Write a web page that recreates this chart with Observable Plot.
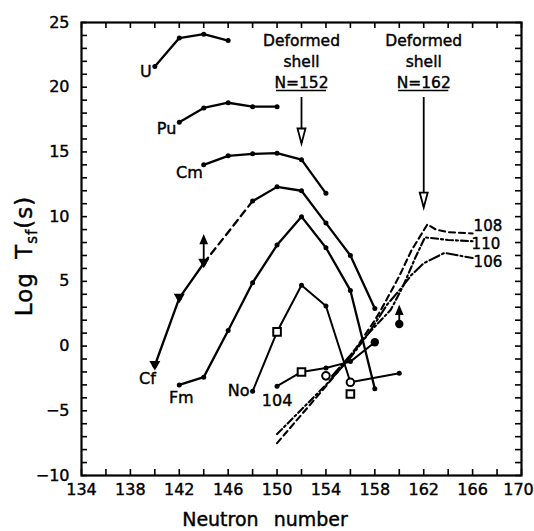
<!DOCTYPE html>
<html><head><meta charset="utf-8">
<script src="https://cdn.jsdelivr.net/npm/d3@7"></script>
<script src="https://cdn.jsdelivr.net/npm/@observablehq/plot@0.6"></script>
<style>body{margin:0;background:#fff}</style>
</head><body><div id="chart"></div>
<script>
// ---- data (neutron number, log Tsf) ----
const xTicks = [134,138,142,146,150,154,158,162,166,170];
const yTicks = [-10,-5,0,5,10,15,20,25];
const U  = [[140,21.6],[142,23.8],[144,24.1],[146,23.6]];
const Pu = [[142,17.3],[144,18.4],[146,18.8],[148,18.5],[150,18.5]];
const Cm = [[144,14.0],[146,14.7],[148,14.85],[150,14.9],[152,14.4],[154,11.8]];
const Cf = [[140,-1.5],[142,3.7],[144,6.4],[148,11.2],[150,12.3],[152,12.0],[154,9.5],[156,7.0],[158,2.9]];
const Fm = [[142,-3.0],[144,-2.4],[146,1.2],[148,4.9],[150,7.8],[152,10.0],[154,7.6],[156,4.3],[158,-3.3]];
const No = [[148,-3.5],[150,1.1],[152,4.7],[154,3.1],[156,-2.8],[160,-2.1]];
const Z104 = [[150,-3.1],[152,-2.0],[154,-1.7],[156,-1.2],[158,0.3]];
const T108 = [[150,-7.5],[152,-5.3],[154,-3.1],[156,-0.8],[157,0.6],[158,2.0],[158.5,2.8],[160,5.4],[161,7.4],[162.3,9.4],[163,9.0],[164,8.8],[166,8.7]];
const T110 = [[150,-6.8],[152,-4.9],[154,-3.0],[156,-0.9],[157.5,1.0],[159.3,2.8],[160.3,4.6],[161.3,6.8],[162.1,8.4],[164,8.2],[166,8.1]];
const T106 = [[154.5,-2.3],[156,-0.7],[157.5,1.0],[159,3.2],[160,4.3],[161,5.5],[162,6.4],[163.7,7.2],[166,6.8]];
const openSquares = [[150,1.1],[152,-2.0],[156,-3.7]];
const openCircles = [[156,-2.8],[154,-2.3]];
const filledCircles = [[158,0.3],[160,1.7]];
const downTriangles = [[140,-1.5],[142,3.7],[144,6.4]];
const lowerLimits = [[144,6.4],[160,1.7]];
const shells = [{n:152, tip:15.65}, {n:162, tip:10.7}];

// ---- layout ----
const W = 534, H = 531, mL = 81, mR = 13, mT = 22, mB = 56;
const frameW = W - mL - mR, frameH = H - mT - mB;
const FONT = "'DejaVu Sans', sans-serif";

const headDown = {draw(c){ c.moveTo(0,0); c.lineTo(-4,-15); c.lineTo(4,-15); c.closePath(); }};
const triDown = {draw(c){ c.moveTo(0,5); c.lineTo(-5.5,-4.5); c.lineTo(5.5,-4.5); c.closePath(); }};
const arrowUp = (L) => ({draw(c){ c.moveTo(0,0); c.lineTo(0,-L); c.moveTo(-3,-L+7); c.lineTo(0,-L); c.lineTo(3,-L+7); c.closePath(); }});

const x = d => d[0], y = d => d[1];
const solid = {x, y, stroke: "black", strokeWidth: 2.3};
const seg = (arr, lo, hi) => arr.filter(d => d[0] >= lo && d[0] <= hi);
const lbl = (t, p, opts) => Plot.text([p], {x, y, text: () => t, fontSize: 16, fill: "black", ...opts});

const chart = Plot.plot({
  width: W, height: H,
  marginLeft: mL, marginRight: mR, marginTop: mT, marginBottom: mB,
  style: {fontFamily: FONT, background: "white"},
  x: {domain: [134,170], label: null},
  y: {domain: [-10,25], label: null},
  marks: [
    Plot.frame({strokeWidth: 2.2}),
    Plot.tickX(d3.range(134,171,2), {x: d => d, insetTop: frameH - 6, strokeWidth: 1.6}),
    Plot.tickX(d3.range(134,171,2), {x: d => d, insetBottom: frameH - 6, strokeWidth: 1.6}),
    Plot.tickY(d3.range(-10,26,1), {y: d => d, insetRight: frameW - 6, strokeWidth: 1.6}),
    Plot.tickY(d3.range(-10,26,1), {y: d => d, insetLeft: frameW - 6, strokeWidth: 1.6}),
    Plot.axisX({ticks: xTicks.slice(0,-1), tickSize: 0, tickPadding: 8, fontSize: 16, tickFormat: d => d}),
    Plot.axisX({ticks: xTicks.slice(-1), tickSize: 0, tickPadding: 8, fontSize: 16, dx: -3, tickFormat: d => d}),
    Plot.axisY({ticks: yTicks, tickSize: 0, tickPadding: 12, fontSize: 16, tickFormat: d => d < 0 ? "\u2212" + (-d) : d}),
    // theory curves
    Plot.line(T108, {x, y, stroke: "black", strokeWidth: 2.1, strokeDasharray: "6,4"}),
    Plot.line(T110, {x, y, stroke: "black", strokeWidth: 2.1, strokeDasharray: "7,3,2,3"}),
    Plot.line(T106, {x, y, stroke: "black", strokeWidth: 2.1, strokeDasharray: "11,3,2,3"}),
    // experimental
    Plot.line(U, solid),
    Plot.line(Pu, solid),
    Plot.line(Cm, solid),
    Plot.line(seg(Cf,140,144), solid),
    Plot.line(seg(Cf,144,148), {...solid, strokeDasharray: "7,5"}),
    Plot.line(seg(Cf,148,158), solid),
    Plot.line(Fm, solid),
    Plot.line(No, {...solid, strokeWidth: 2}),
    Plot.line(Z104, {...solid, strokeWidth: 2}),
    Plot.dot([...U,...Pu,...Cm,...Cf,...Fm,...No,...Z104], {x, y, r: 2.5, fill: "black"}),
    Plot.dot(downTriangles, {x, y, symbol: triDown, fill: "black"}),
    Plot.dot(filledCircles, {x, y, r: 4.2, fill: "black"}),
    Plot.dot(openSquares, {x, y, symbol: "square", r: 4.3, fill: "white", stroke: "black", strokeWidth: 2}),
    Plot.dot(openCircles, {x, y, r: 3.8, fill: "white", stroke: "black", strokeWidth: 2}),
    Plot.dot(lowerLimits.slice(0,1), {x, y, symbol: arrowUp(27), fill: "black", stroke: "black", strokeWidth: 1.8}),
    Plot.dot(lowerLimits.slice(1), {x, y, symbol: arrowUp(17), fill: "black", stroke: "black", strokeWidth: 1.8}),
    // deformed shell annotations
    Plot.text(shells, {x: "n", frameAnchor: "top", text: d => `Deformed\nshell\nN=${d.n}`, lineAnchor: "top", dy: 9, lineHeight: 1.35, fontSize: 15.5, fill: "black"}),
    Plot.ruleY(shells, {y: () => 25, x1: d => d.n - 2.05, x2: d => d.n + 2.05, dy: 68, strokeWidth: 1.6}),
    Plot.ruleX(shells, {x: "n", y1: () => 25, y2: "tip", insetTop: 75, strokeWidth: 1.8}),
    Plot.dot(shells, {x: "n", y: "tip", symbol: headDown, fill: "white", stroke: "black", strokeWidth: 1.8}),
    // series labels
    lbl("U", U[0], {textAnchor: "end", dx: -3, dy: 5}),
    lbl("Pu", Pu[0], {textAnchor: "end", dx: -3, dy: 7}),
    lbl("Cm", Cm[0], {textAnchor: "end", dx: -1, dy: 8}),
    lbl("Cf", Cf[0], {textAnchor: "end", dx: 1, dy: 13}),
    lbl("Fm", Fm[0], {textAnchor: "middle", dx: 2, dy: 13}),
    lbl("No", No[0], {textAnchor: "end", dx: -3, dy: 0}),
    lbl("104", Z104[0], {textAnchor: "middle", dx: 0, dy: 15}),
    lbl("108", T108[T108.length-1], {textAnchor: "start", dx: 1, dy: -7, fontSize: 15}),
    lbl("110", T110[T110.length-1], {textAnchor: "start", dx: -1, dy: 3, fontSize: 15}),
    lbl("106", T106[T106.length-1], {textAnchor: "start", dx: 1, dy: 4, fontSize: 15})
  ]
});

const s = d3.select(chart);
const yl = s.append("text")
  .attr("transform", "translate(32,256) rotate(-90)")
  .attr("text-anchor", "middle")
  .style("font-family", FONT).style("font-size", "23px").style("word-spacing", "5px").style("letter-spacing", "1px").attr("fill", "black");
yl.append("tspan").text("Log T");
yl.append("tspan").attr("dy", 5).style("font-size", "15px").text("sf");
yl.append("tspan").attr("dy", -5).text("(s)");
s.append("text")
  .attr("x", 265).attr("y", 526)
  .attr("text-anchor", "middle")
  .style("font-family", FONT).style("font-size", "19px").style("word-spacing", "9px").attr("fill", "black")
  .text("Neutron number");
// slight emboldening to mimic the printed figure
s.selectAll("text").attr("stroke", "black").attr("stroke-width", 0.4);

document.getElementById("chart").appendChild(chart);
</script>
</body></html>
